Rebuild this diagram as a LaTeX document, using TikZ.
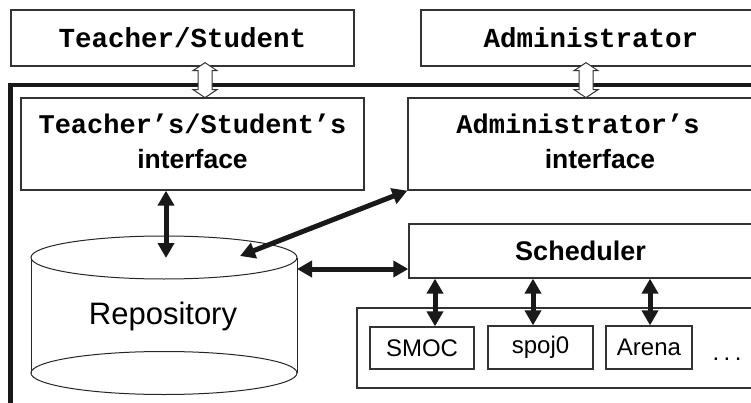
\documentclass[tikz,border=0pt]{standalone}
\usepackage{fontspec}
\setmainfont{Liberation Sans}
\newfontfamily\cour{Liberation Mono}
\usetikzlibrary{arrows.meta}
\newcommand{\ifacetext}{{\bfseries\fontsize{26.5}{35}\selectfont interface}\rule[-6pt]{0pt}{0pt}}
\begin{document}
\begin{tikzpicture}[x=1pt,y=-1pt,
  box/.style={draw=black!80, line width=1.3pt, fill=white, inner sep=0pt, align=center},
  dbl/.style={line width=5pt, black!90, {Triangle[width=16pt,length=15pt]}-{Triangle[width=16pt,length=15pt]}},
  hollow/.style={draw=black!80, line width=1pt, fill=white, line join=miter},
  frameline/.style={line width=4.5pt, black!90},
  cyl/.style={draw=black!85, line width=1pt},
  courlab/.style={font=\cour\bfseries\fontsize{27.5}{30}\selectfont},
  twoline/.style={font=\fontsize{27}{35}\selectfont},
  sanslab/.style={font=\fontsize{24}{28}\selectfont}]
\useasboundingbox (0,0) rectangle (751,403);
\begin{scope}
\clip (0,0) rectangle (751,403);
% outer frame
\draw[frameline] (10.5,420) -- (10.5,85) -- (770,85);
% top boxes
\node[box, courlab, minimum width=343pt, minimum height=56pt] (ts) at (182.5,38) {Teacher/Student};
\node[box, courlab, minimum width=340pt, minimum height=56pt] (adm) at (591,38) {Administrator};
% interface boxes
\node[box, twoline, minimum width=343pt, minimum height=92pt] (tsi) at (192.5,144)
  {{\cour\bfseries Teacher’s/Student’s}\\\ifacetext};
\node[box, twoline, minimum width=362pt, minimum height=92pt] (admi) at (589,144)
  {{\cour\bfseries Administrator’s}\hspace*{22pt}\\\hspace*{22pt}\ifacetext};
% hollow arrows
\begin{scope}[shift={([xshift=22.5pt]ts.south)}]
  \draw[hollow] (0,-4) -- (12,4) -- (7,4) -- (7,23) -- (12,23) -- (0,31) -- (-12,23) -- (-7,23) -- (-7,4) -- (-12,4) -- cycle;
\end{scope}
\begin{scope}[shift={([xshift=-5pt]adm.south)}]
  \draw[hollow] (0,-4) -- (12,4) -- (7,4) -- (7,23) -- (12,23) -- (0,31) -- (-12,23) -- (-7,23) -- (-7,4) -- (-12,4) -- cycle;
\end{scope}
% repository cylinder
\draw[cyl] (31,257.5) -- (31,373);
\draw[cyl] (297,257.5) -- (297,373);
\draw[cyl] (164,257.5) ellipse [x radius=133, y radius=21.5];
\draw[cyl] (164,373) ellipse [x radius=133, y radius=21.5];
\node[font=\fontsize{31}{34}\selectfont, inner sep=0pt] (repo) at (163,316) {Repository};
\coordinate (repotop) at (166,258);
\coordinate (repodiag) at (240,256);
\coordinate (reporight) at (297,269);
% scheduler
\node[box, font=\bfseries\fontsize{27}{30}\selectfont, minimum width=343pt, minimum height=54pt] (sched) at (580.5,251) {Scheduler};
% tools container
\node[box, minimum width=410pt, minimum height=80pt] (tools) at (562,348) {};
\node[box, sanslab, minimum width=104pt, minimum height=42pt] (smoc) at (422,348) {SMOC};
\node[box, sanslab, minimum width=105pt, minimum height=43pt] (spoj) at (540.5,347.5) {spoj0};
\node[box, sanslab, minimum width=86pt, minimum height=43pt] (arena) at (649,347.5) {Arena};
\node[sanslab, inner sep=0pt] (more) at (727,359) {.\hspace{4.5pt}.\hspace{4.5pt}.};
% black arrows
\draw[dbl] ([xshift=-26.5pt]tsi.south) -- (repotop);
\draw[dbl] (admi.south west) -- (repodiag);
\draw[dbl] (reporight) -- (sched.west |- reporight);
\draw[dbl] ([xshift=13pt]smoc.north) -- ([xshift=13pt]smoc.north |- sched.south);
\draw[dbl] ([xshift=-7.5pt]spoj.north) -- ([xshift=-7.5pt]spoj.north |- sched.south);
\draw[dbl] ([xshift=1pt]arena.north) -- ([xshift=1pt]arena.north |- sched.south);
\end{scope}
\end{tikzpicture}
\end{document}
